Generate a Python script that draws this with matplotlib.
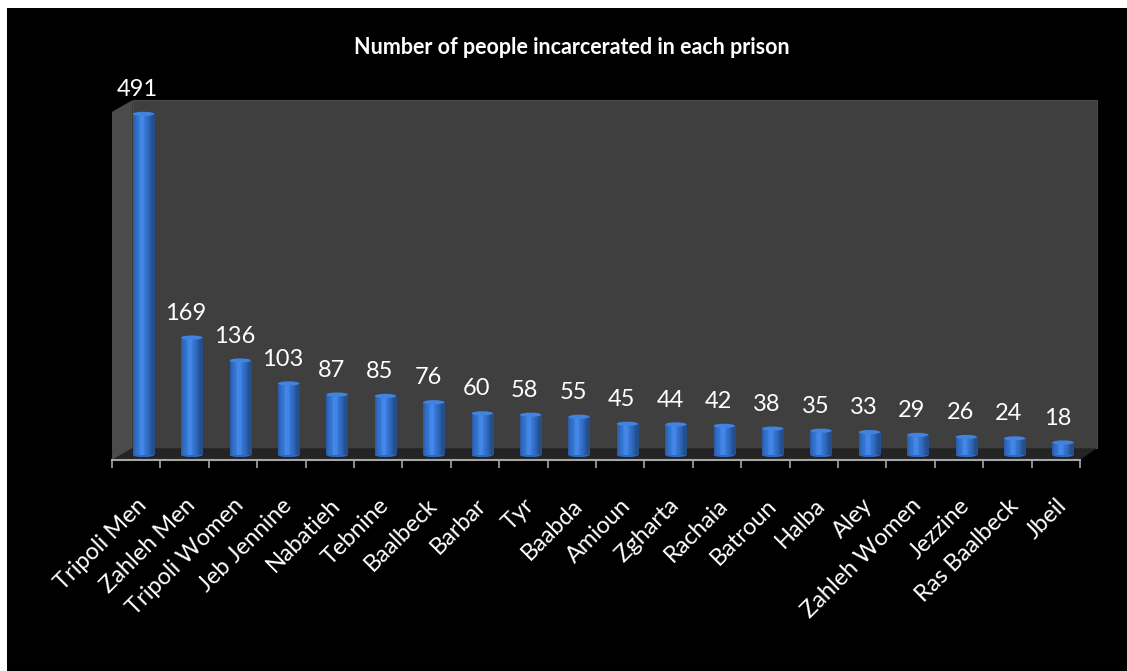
import numpy as np
import matplotlib
matplotlib.use("Agg")
import matplotlib.pyplot as plt
from matplotlib.patches import Rectangle, Polygon, Ellipse

# Data
prisons = ["Tripoli Men", "Zahleh Men", "Tripoli Women", "Jeb Jennine", "Nabatieh",
           "Tebnine", "Baalbeck", "Barbar", "Tyr", "Baabda", "Amioun", "Zgharta",
           "Rachaia", "Batroun", "Halba", "Aley", "Zahleh Women", "Jezzine",
           "Ras Baalbeck", "Jbeil"]
inmates = [491, 169, 136, 103, 87, 85, 76, 60, 58, 55, 45, 44, 42, 38, 35, 33, 29, 26, 24, 18]

plt.rcParams['font.family'] = ['Lato', 'DejaVu Sans']

W, H = 1127, 671
fig = plt.figure(figsize=(W / 100, H / 100), dpi=100, facecolor='white')

# black chart area (white strip left and top like the screenshot)
fig.patches.append(Rectangle((7 / W, 0), 1 - 7 / W, 1 - 8 / H, transform=fig.transFigure,
                             facecolor='black', edgecolor='none', zorder=-1))

ax = fig.add_axes([112 / W, 211 / H, 968 / W, 360 / H])
ax.set_zorder(1)
ax.set_facecolor('none')
n = len(prisons)
ymin, ymax = -7.2, 511
ax.set_xlim(-0.5, n - 0.5)
ax.set_ylim(ymin, ymax)

# 3D box: depth offsets
dx, dy = 0.43, 17
xl, xr = -0.5, n - 0.5
back_l, back_r = xl + dx, xr + dx * 0.8
floor_back = ymin + dy

ax.add_patch(Rectangle((back_l, floor_back), back_r - back_l, ymax - floor_back,
                       facecolor='#3f3f3f', edgecolor='#4a4a4a', lw=0.8, clip_on=False, zorder=1))
ax.add_patch(Polygon([(xl, ymin), (xl, ymax - dy), (back_l, ymax), (back_l, floor_back)],
                     facecolor='#4b4b4b', edgecolor='none', clip_on=False, zorder=1))
ax.add_patch(Polygon([(xl, ymin), (xr, ymin), (back_r, floor_back), (back_l, floor_back)],
                     facecolor='#242424', edgecolor='none', clip_on=False, zorder=1))

# cylinder-like bars with horizontal gradient
grad = np.linspace(0, 1, 64)
shade = 1 - 0.4 * (grad - 0.4) ** 2 * 4
shade = np.clip(shade, 0.65, 1.0)
base = np.array([0.22, 0.48, 0.86])
img = np.zeros((1, 64, 3))
for k in range(3):
    img[0, :, k] = np.clip(base[k] * shade + 0.05 * (shade > 0.98), 0, 1)

bw = 0.44
off = 0.15
for i, v in enumerate(inmates):
    x0 = i + off - bw / 2
    rect = Rectangle((x0, 0), bw, v, facecolor='none', edgecolor='none', zorder=3)
    ax.add_patch(rect)
    im = ax.imshow(img, extent=(x0, x0 + bw, 0, v), aspect='auto', zorder=3,
                   interpolation='bilinear')
    im.set_clip_path(rect)
    ax.add_patch(Ellipse((i + off, v), bw, 6, facecolor='#4184e0', edgecolor='none', zorder=4))
    ax.add_patch(Ellipse((i + off, 0), bw, 6, facecolor='#2f68c0', edgecolor='none', zorder=2.9))
    ax.text(i + 0.03, v + 20, str(v), color='white', fontsize=17, ha='center', va='bottom',
            zorder=5)

ax.set_xlim(-0.5, n - 0.5)
ax.set_ylim(ymin, ymax)

# axis
for s in ['top', 'right', 'left']:
    ax.spines[s].set_visible(False)
ax.spines['bottom'].set_color('#a6a6a6')
ax.spines['bottom'].set_linewidth(1.5)
ax.spines['bottom'].set_zorder(6)
ax.set_yticks([])
ax.set_xticks(np.arange(n + 1) - 0.5, minor=True)
ax.tick_params(axis='x', which='minor', length=6, width=1.2, color='#a6a6a6')
ax.set_xticks(np.arange(n))
ax.set_xticklabels(prisons, rotation=45, ha='right', rotation_mode='anchor',
                   color='white', fontsize=17)
ax.tick_params(axis='x', which='major', length=0, pad=25)
for lbl in ax.get_xticklabels():
    lbl.set_x(lbl.get_position()[0] - 0.15)

fig.text(572 / W, 1 - 47 / H, "Number of people incarcerated in each prison", color='white',
         fontsize=15.5, fontweight='bold', ha='center', va='center')

fig.savefig('out.png', dpi=100, facecolor=fig.get_facecolor())
